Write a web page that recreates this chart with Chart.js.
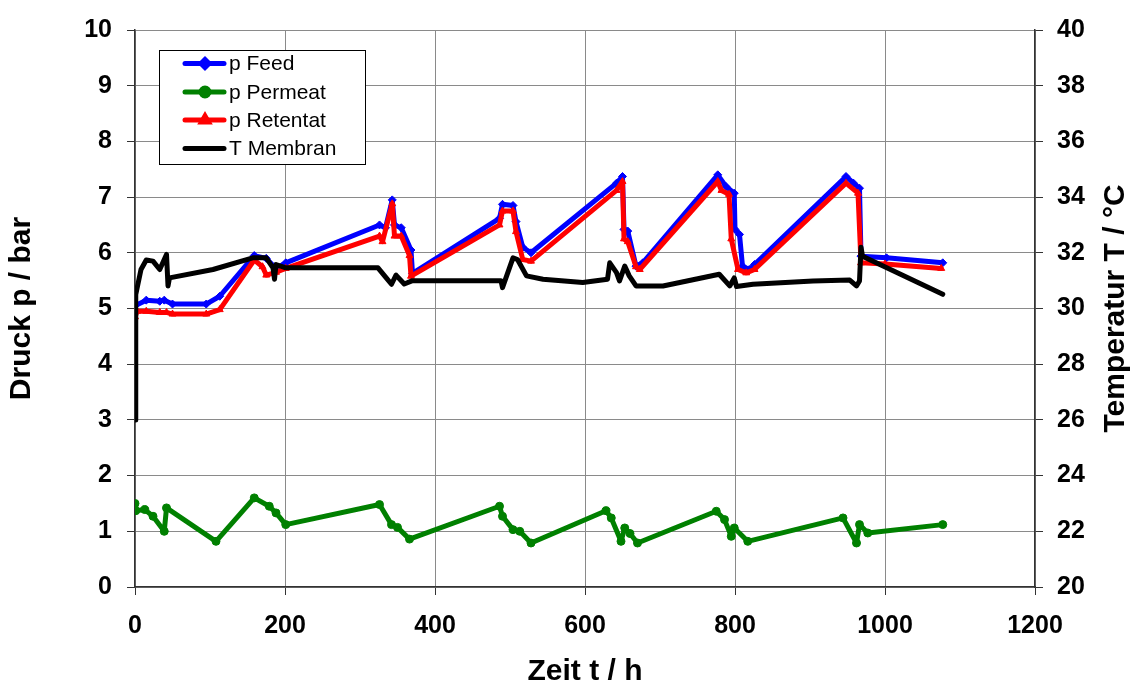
<!DOCTYPE html>
<html>
<head>
<meta charset="utf-8">
<script src="https://cdn.jsdelivr.net/npm/chart.js@4/dist/chart.umd.min.js"></script>
<style>
  html, body { margin: 0; padding: 0; background: #fff; }
  #wrap { width: 1132px; height: 687px; }
</style>
</head>
<body>
<div id="wrap"><canvas id="c" width="1132" height="687"></canvas></div>
<script>
// ---- Data ----
const seriesLabels = ["p Feed", "p Permeat", "p Retentat", "T Membran"];

const feedTime = [0, 15, 33, 39, 50, 95, 113, 159, 175, 188, 201, 326, 334, 343, 346, 355, 368, 370,
  486, 490, 504, 508, 517, 528, 642, 650, 652, 657, 668, 677,
  777, 788, 799, 800, 806, 810, 819, 826, 948, 958, 966, 968, 1002, 1077];
const feedPressure = [5.05, 5.15, 5.13, 5.15, 5.08, 5.08, 5.22, 5.95, 5.9, 5.72, 5.82, 6.5, 6.45, 6.95, 6.5, 6.45, 6.05, 5.63,
  6.62, 6.87, 6.85, 6.56, 6.1, 6.0, 7.25, 7.37, 6.42, 6.39, 5.76, 5.82,
  7.4, 7.19, 7.07, 6.42, 6.33, 5.76, 5.7, 5.79, 7.37, 7.25, 7.16, 5.94, 5.91, 5.82];

const permeatTime = [0, 1, 13, 24, 39, 42, 108, 159, 179, 188, 201, 326, 342, 350, 366,
  486, 490, 504, 513, 528, 628, 635, 648, 653, 660, 670,
  775, 786, 795, 799, 817, 944, 962, 966, 977, 1077];
const permeatPressure = [1.5, 1.37, 1.39, 1.27, 1.0, 1.42, 0.82, 1.6, 1.45, 1.33, 1.12, 1.48, 1.12, 1.07, 0.86,
  1.45, 1.27, 1.03, 1.0, 0.79, 1.37, 1.24, 0.82, 1.06, 0.96, 0.79,
  1.36, 1.21, 0.91, 1.06, 0.82, 1.24, 0.79, 1.12, 0.97, 1.12];

const retentatTime = [0, 3, 15, 33, 42, 50, 95, 113, 159, 170, 175, 188, 201, 326, 330, 343, 346, 355, 366, 368,
  486, 490, 504, 508, 517, 528, 642, 650, 652, 657, 668, 673,
  777, 782, 792, 795, 804, 815, 826, 948, 964, 968, 1000, 1075];
const retentatPressure = [4.85, 4.95, 4.95, 4.93, 4.93, 4.9, 4.9, 4.98, 5.87, 5.75, 5.6, 5.65, 5.72, 6.3, 6.2, 6.88, 6.3, 6.3, 5.95, 5.58,
  6.5, 6.75, 6.75, 6.38, 5.88, 5.85, 7.12, 7.28, 6.25, 6.2, 5.75, 5.7,
  7.28, 7.12, 7.05, 6.25, 5.7, 5.64, 5.7, 7.25, 7.07, 5.82, 5.8, 5.72];

const membranTime = [0, 1, 8, 15, 24, 33, 42, 44, 46, 104, 157, 175, 184, 186, 188, 201, 324, 335, 342, 348, 359, 370,
  488, 490, 504, 510, 522, 544, 597, 630, 633, 642, 646, 653, 659, 668, 704,
  779, 793, 799, 802, 824, 904, 953, 962, 966, 968, 970, 1077];
const membranTemp = [26.0, 30.5, 31.4, 31.74, 31.7, 31.4, 31.94, 30.81, 31.1, 31.4, 31.82, 31.82, 31.46, 31.05, 31.58, 31.46, 31.46, 31.1, 30.87, 31.2, 30.88, 31.0,
  31.0, 30.75, 31.82, 31.76, 31.17, 31.05, 30.93, 31.05, 31.64, 31.29, 30.99, 31.52, 31.17, 30.81, 30.81,
  31.23, 30.81, 31.1, 30.79, 30.87, 30.99, 31.02, 30.81, 30.99, 32.2, 31.88, 30.51];

const xTitle = "Zeit t / h";
const yTitle = "Druck p / bar";
const y2Title = "Temperatur T / °C";

function pts(xs, ys) { return xs.map((x, i) => ({ x: x, y: ys[i] })); }

const FONT = "'Liberation Sans', Arial, sans-serif";
const colors = ["#0000ff", "#008000", "#ff0000", "#000000"];
const styles = ["rectRot", "circle", "triangle", false];

// Legend + right title plugin
const extras = {
  id: 'extras',
  afterDraw(chart) {
    const ctx = chart.ctx;
    ctx.save();
    // right axis title, reading bottom to top
    const ca = chart.chartArea;
    ctx.translate(1116, (ca.top + ca.bottom) / 2);
    ctx.rotate(-Math.PI / 2);
    ctx.font = "bold 30px " + FONT;
    ctx.fillStyle = "#000";
    ctx.textAlign = "center";
    ctx.textBaseline = "middle";
    ctx.fillText(y2Title, 0, 0);
    ctx.restore();

    // legend box
    ctx.save();
    const bx = 159, by = 50, bw = 206, bh = 114;
    ctx.fillStyle = "#fff";
    ctx.fillRect(bx, by, bw, bh);
    ctx.strokeStyle = "#000";
    ctx.lineWidth = 1;
    ctx.strokeRect(bx + 0.5, by + 0.5, bw, bh);
    const rows = [63.5, 92, 120, 148.5];
    ctx.font = "21px " + FONT;
    ctx.textBaseline = "middle";
    ctx.textAlign = "left";
    seriesLabels.forEach((lab, i) => {
      const y = rows[i];
      ctx.strokeStyle = colors[i];
      ctx.lineWidth = 5;
      ctx.lineCap = "round";
      ctx.beginPath();
      ctx.moveTo(185, y);
      ctx.lineTo(224, y);
      ctx.stroke();
      if (styles[i]) {
        ctx.fillStyle = colors[i];
        ctx.strokeStyle = colors[i];
        Chart.helpers.drawPoint(ctx, { pointStyle: styles[i], radius: 4, borderWidth: 1 }, 205, y);
      }
      ctx.fillStyle = "#000";
      ctx.fillText(lab, 229, y + 1);
    });
    ctx.restore();
  }
};

const mk = (i, data, axis, order) => ({
  label: seriesLabels[i],
  data: data,
  yAxisID: axis,
  borderColor: colors[i],
  backgroundColor: colors[i],
  borderWidth: 5,
  borderJoinStyle: 'round',
  borderCapStyle: 'round',
  pointStyle: styles[i] || 'circle',
  pointRadius: styles[i] ? 4 : 0,
  pointBorderWidth: 1,
  pointHoverRadius: 0,
  tension: 0,
  fill: false,
  order: order
});

new Chart(document.getElementById('c'), {
  type: 'line',
  data: {
    datasets: [
      mk(0, pts(feedTime, feedPressure), 'y', 3),
      mk(1, pts(permeatTime, permeatPressure), 'y', 2),
      mk(2, pts(retentatTime, retentatPressure), 'y', 1),
      mk(3, pts(membranTime, membranTemp), 'y2', 0)
    ]
  },
  options: {
    responsive: false,
    animation: false,
    devicePixelRatio: 1,
    events: [],
    layout: { padding: { top: 24.5, left: 0, right: 0, bottom: 0 } },
    plugins: { legend: { display: false }, tooltip: { enabled: false } },
    scales: {
      x: {
        type: 'linear',
        min: 0, max: 1200,
        ticks: { stepSize: 200, color: '#000', padding: 16, maxRotation: 0,
          callback: (v) => String(v),
          font: { family: FONT, size: 25, weight: 'bold' } },
        grid: { color: '#8a8a8a', lineWidth: 1, tickLength: 8, tickColor: '#333' },
        border: { color: '#333', width: 1.5 },
        title: { display: true, text: xTitle, color: '#000',
          font: { family: FONT, size: 30, weight: 'bold', lineHeight: 1 }, padding: { top: 0, bottom: 0 } },
        afterFit(s) { s.height = 100; }
      },
      y: {
        position: 'left',
        min: 0, max: 10,
        ticks: { stepSize: 1, color: '#000', padding: 15,
          callback: (v) => String(v),
          font: { family: FONT, size: 25, weight: 'bold' } },
        grid: { color: '#8a8a8a', lineWidth: 1, tickLength: 8, tickColor: '#333' },
        border: { color: '#333', width: 1.5 },
        title: { display: true, text: yTitle, color: '#000',
          font: { family: FONT, size: 30, weight: 'bold', lineHeight: 1 }, padding: { top: 7, bottom: 0 } },
        afterFit(s) { s.width = 135; }
      },
      y2: {
        position: 'right',
        min: 20, max: 40,
        ticks: { stepSize: 2, color: '#000', padding: 14,
          callback: (v) => String(v),
          font: { family: FONT, size: 25, weight: 'bold' } },
        grid: { drawOnChartArea: false, tickLength: 8, color: '#333' },
        border: { color: '#333', width: 1.5 },
        title: { display: false },
        afterFit(s) { s.width = 97; }
      }
    }
  },
  plugins: [extras]
});
</script>
</body>
</html>
